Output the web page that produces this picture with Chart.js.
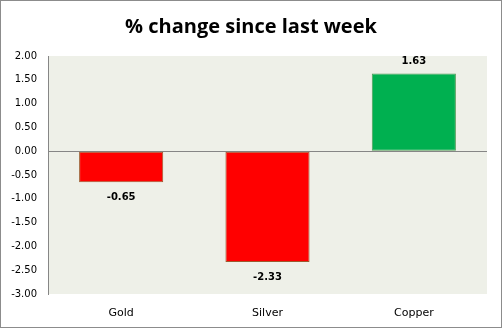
<!DOCTYPE html>
<html>
<head>
<meta charset="utf-8">
<script src="https://cdn.jsdelivr.net/npm/chart.js@4"></script>
<style>
  html, body { margin: 0; padding: 0; background: #fff; }
  #wrap { width: 502px; height: 328px; position: relative; }
</style>
</head>
<body>
<div id="wrap"><canvas id="myChart"></canvas></div>
<script>
const metals = ['Gold', 'Silver', 'Copper']
const change = [-0.65, -2.33, 1.63]
const barColors = ['#FF0000', '#FF0000', '#00B050']
const barBorders = ['#9C5A2E', '#9C5A2E', '#4F9A55']

// fond du graphique + cadre gris
const frame = {
    id: 'frame',
    beforeDraw(chart) {
        const ctx = chart.ctx
        const a = chart.chartArea
        ctx.save()
        ctx.fillStyle = '#fff'
        ctx.fillRect(0, 0, chart.width, chart.height)
        ctx.fillStyle = '#EEF0E8'
        ctx.fillRect(a.left, a.top, a.right - a.left, a.bottom - a.top)
        ctx.strokeStyle = '#8C8C8C'
        ctx.lineWidth = 1
        ctx.strokeRect(0.5, 0.5, chart.width - 1, chart.height - 1)
        ctx.restore()
    }
}

// valeurs au-dessus / en dessous des barres
const valueLabels = {
    id: 'valueLabels',
    afterDatasetsDraw(chart) {
        const ctx = chart.ctx
        const meta = chart.getDatasetMeta(0)
        ctx.save()
        ctx.font = 'bold 10px "DejaVu Sans"'
        ctx.fillStyle = '#000'
        ctx.textAlign = 'center'
        ctx.textBaseline = 'middle'
        meta.data.forEach((bar, i) => {
            const v = chart.data.datasets[0].data[i]
            const y = v >= 0 ? bar.y - 12 : bar.y + 15
            ctx.fillText(v.toFixed(2), bar.x, y)
        })
        ctx.restore()
    }
}

const cfg = {
    type: 'bar',
    data: {
        labels: metals,
        datasets: [{
            data: change,
            backgroundColor: barColors,
            borderColor: barBorders,
            borderWidth: 1,
            borderSkipped: false,
            barPercentage: 0.575,
            categoryPercentage: 1
        }]
    },
    options: {
        responsive: true,
        maintainAspectRatio: false,
        animation: false,
        scales: {
            x: {
                afterFit: (s) => { s.height = 34 },
                grid: { display: false },
                border: { display: false },
                ticks: {
                    color: '#000',
                    padding: 5,
                    font: { family: 'DejaVu Sans', size: 11 }
                }
            },
            y: {
                min: -3,
                max: 2,
                afterFit: (s) => { s.width = 48 },
                border: { display: true, color: '#868686' },
                grid: {
                    drawTicks: false,
                    color: (c) => c.tick && c.tick.value === 0 ? '#868686' : 'rgba(0,0,0,0)'
                },
                ticks: {
                    stepSize: 0.5,
                    color: '#000',
                    padding: 11,
                    font: { family: 'DejaVu Sans', size: 10 },
                    callback: (v) => Number(v).toFixed(2)
                }
            },
            // marge droite vide, pour que le titre reste centré sur la page
            yRight: {
                type: 'linear',
                position: 'right',
                afterFit: (s) => { s.width = 15 },
                grid: { display: false },
                border: { display: false },
                ticks: { display: false }
            }
        },
        plugins: {
            legend: { display: false },
            tooltip: { enabled: false },
            title: {
                display: true,
                text: '% change since last week',
                color: '#000',
                font: { family: 'Open Sans', size: 20, weight: 'bold', lineHeight: 1.2 },
                padding: { top: 15, bottom: 17 }
            }
        }
    },
    plugins: [frame, valueLabels]
}

const ctx = document.getElementById('myChart').getContext('2d')
// eslint-disable-next-line no-undef
const myChart = new Chart(ctx, cfg)
</script>
</body>
</html>
